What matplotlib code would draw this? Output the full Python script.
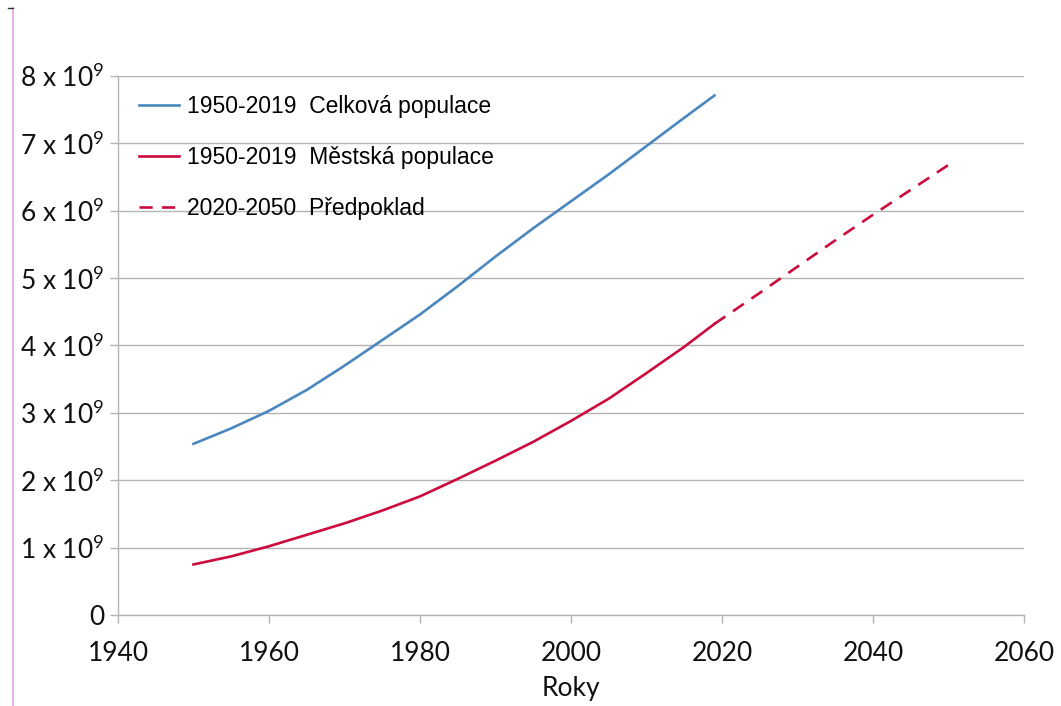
import numpy as np
import matplotlib.pyplot as plt
from matplotlib.lines import Line2D
from matplotlib.ticker import FuncFormatter

# world population (billions)
years = [1950, 1955, 1960, 1965, 1970, 1975, 1980, 1985, 1990, 1995, 2000, 2005, 2010, 2015, 2019]
total = [2.54, 2.77, 3.03, 3.34, 3.70, 4.08, 4.46, 4.88, 5.32, 5.74, 6.14, 6.54, 6.96, 7.38, 7.71]
urban = [0.75, 0.87, 1.02, 1.19, 1.36, 1.55, 1.76, 2.02, 2.29, 2.57, 2.88, 3.21, 3.59, 3.98, 4.32]

proj_years = [2019, 2025, 2030, 2035, 2040, 2045, 2050]
proj_urban = [4.32, 4.78, 5.17, 5.56, 5.94, 6.31, 6.68]

labels = ['1950-2019  Celková populace', '1950-2019  Městská populace', '2020-2050  Předpoklad']

plt.rcParams['font.family'] = ['Lato', 'DejaVu Sans']
plt.rcParams['mathtext.default'] = 'regular'

blue = '#4a87bf'
red = '#cc0a3c'
grid = '#b4b4b4'

fig = plt.figure(figsize=(10.61, 7.06), dpi=100)
ax = fig.add_axes([0.1112, 0.1289, 0.8539, 0.7635])

ax.plot(years, np.array(total) * 1e9, color=blue, lw=1.9, label=labels[0])
ax.plot(years, np.array(urban) * 1e9, color=red, lw=1.9, label=labels[1])
ax.plot(proj_years, np.array(proj_urban) * 1e9, color=red, lw=1.9, dashes=(5, 3.5), label=labels[2])

ax.set_xlim(1940, 2060)
ax.set_ylim(0, 8e9)
ax.set_xticks(range(1940, 2061, 20))
ax.set_yticks(np.arange(0, 9) * 1e9)


def yfmt(v, pos):
    n = int(round(v / 1e9))
    if n == 0:
        return '0'
    return f'{n} x 10$^{{9}}$'


ax.yaxis.set_major_formatter(FuncFormatter(yfmt))
ax.tick_params(axis='both', labelsize=19, color=grid, length=6, width=1, labelcolor='#111111')
ax.tick_params(axis='x', pad=13)
ax.tick_params(axis='y', pad=4)

ax.grid(axis='y', color=grid, lw=1)
ax.set_axisbelow(True)
for s in ['top', 'right']:
    ax.spines[s].set_visible(False)
for s in ['left', 'bottom']:
    ax.spines[s].set_color(grid)
    ax.spines[s].set_linewidth(1)

ax.set_xlabel('Roky', fontsize=19, labelpad=7, color='#111111')

leg = ax.legend(loc='upper left', bbox_to_anchor=(-0.0075, 1.016), frameon=False,
                prop={'family': 'Liberation Sans', 'size': 16.5},
                handlelength=1.75, handletextpad=0.35, labelspacing=1.22, borderaxespad=0.8)

# thin pink margin line at the left edge
fig.add_artist(Line2D([0.0125, 0.0125], [0.0, 0.989], color='#e9a6e6', lw=1.2))
fig.add_artist(Line2D([0.0075, 0.0125], [0.989, 0.989], color='#333333', lw=1))

fig.savefig('out.png', dpi=100)
